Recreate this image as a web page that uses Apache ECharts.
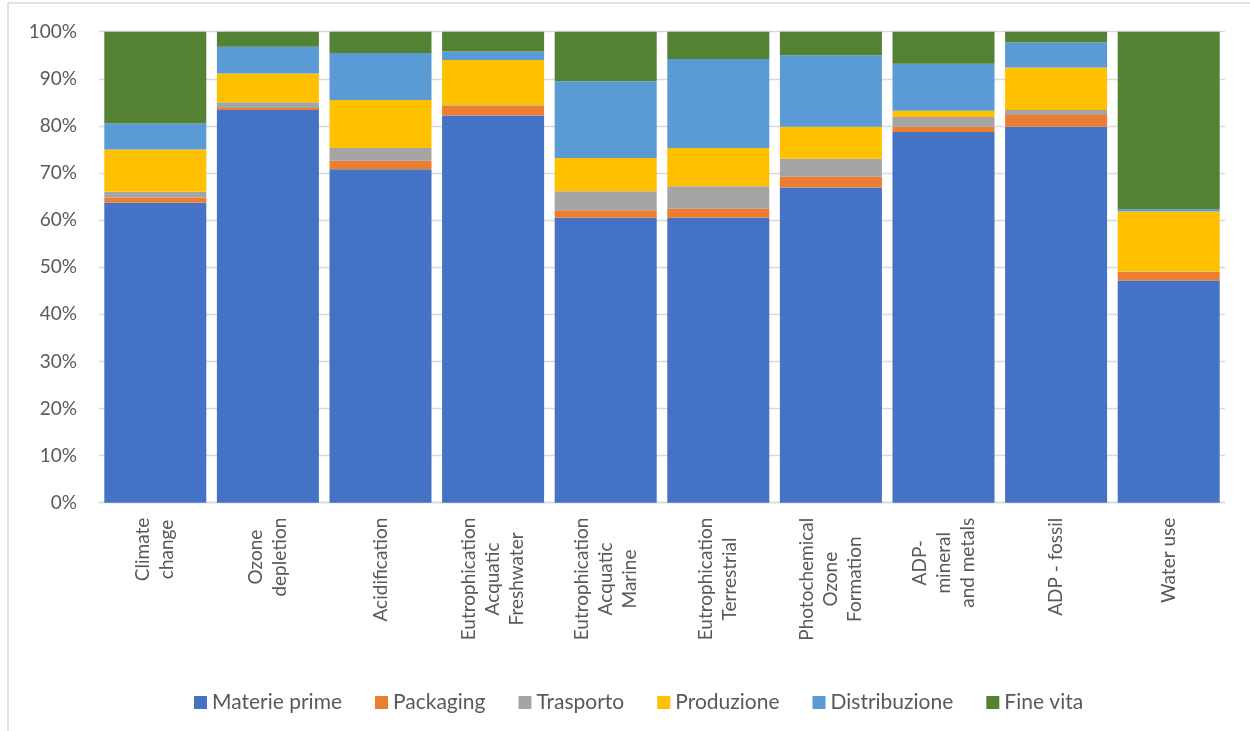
<!DOCTYPE html>
<html>
<head>
<meta charset="utf-8">
<script src="https://cdn.jsdelivr.net/npm/echarts@6/dist/echarts.min.js"></script>
<style>
html,body{margin:0;padding:0;background:#fff;}
#chart{width:1250px;height:731px;}
</style>
</head>
<body>
<div id="chart"></div>
<script>
var categories = [
  "Climate\nchange",
  "Ozone\ndepletion",
  "Acidification",
  "Eutrophication\nAcquatic\nFreshwater",
  "Eutrophication\nAcquatic\nMarine",
  "Eutrophication\nTerrestrial",
  "Photochemical\nOzone\nFormation",
  "ADP-\nmineral\nand metals",
  "ADP - fossil",
  "Water use"
];
var seriesNames = ["Materie prime", "Packaging", "Trasporto", "Produzione", "Distribuzione", "Fine vita"];
var materiePrime  = [63.7, 83.4, 70.8, 82.2, 60.5, 60.5, 66.9, 78.7, 79.8, 47.2];
var packaging     = [1.1, 0.4, 1.8, 2.0, 1.6, 1.9, 2.3, 1.1, 2.5, 1.8];
var trasporto     = [1.2, 1.2, 2.7, 0.2, 4.0, 4.8, 3.8, 2.1, 1.1, 0.1];
var produzione    = [9.0, 6.1, 10.2, 9.6, 7.1, 8.1, 6.8, 1.3, 9.0, 12.7];
var distribuzione = [5.5, 5.7, 10.0, 1.8, 16.3, 18.9, 15.2, 10.0, 5.3, 0.5];
var fineVita      = [19.5, 3.2, 4.5, 4.2, 10.5, 5.8, 5.0, 6.8, 2.3, 37.7];
var yTicks = [0, 10, 20, 30, 40, 50, 60, 70, 80, 90, 100];

var colors = ["#4472C4", "#ED7D31", "#A5A5A5", "#FFC000", "#5B9BD5", "#548235"];
var allData = [materiePrime, packaging, trasporto, produzione, distribuzione, fineVita];

var FONT = "Lato";
var chart = echarts.init(document.getElementById('chart'), null, {renderer: 'canvas'});
var series = seriesNames.map(function (name, i) {
  return {
    name: name,
    type: 'bar',
    stack: 'total',
    barCategoryGap: '9.4%',
    data: allData[i],
    itemStyle: {color: colors[i]},
    emphasis: {disabled: true},
    animation: false
  };
});

chart.setOption({
  animation: false,
  color: colors,
  graphic: [{
    type: 'rect',
    shape: {x: 8, y: 3, width: 1400, height: 900},
    style: {fill: 'none', stroke: '#d9d9d9', lineWidth: 1.5},
    silent: true
  }],
  grid: {left: 99, right: 25, top: 31.7, bottom: 228.3, containLabel: false},
  legend: {
    data: seriesNames,
    left: 189,
    top: 687,
    icon: 'rect',
    itemWidth: 13,
    itemHeight: 13,
    itemGap: 33,
    textStyle: {fontFamily: FONT, fontSize: 21, color: '#595959'}
  },
  xAxis: {
    type: 'category',
    data: categories,
    axisLine: {show: true, lineStyle: {color: '#d9d9d9', width: 1.3}},
    axisTick: {show: false},
    axisLabel: {
      rotate: 90,
      interval: 0,
      margin: 15,
      color: '#595959',
      fontFamily: FONT,
      fontSize: 19,
      formatter: function (v) {
        return v.split('\n').map(function (l) { return '{c|' + l + '}'; }).join('\n');
      },
      rich: {c: {align: 'center', fontFamily: FONT, fontSize: 19, color: '#595959', lineHeight: 24}}
    }
  },
  yAxis: {
    type: 'value',
    min: yTicks[0],
    max: yTicks[yTicks.length - 1],
    interval: 10,
    axisLine: {show: false},
    axisTick: {show: false},
    splitLine: {show: true, lineStyle: {color: '#d9d9d9', width: 1.3}},
    axisLabel: {
      margin: 22,
      color: '#595959',
      fontFamily: FONT,
      fontSize: 19,
      formatter: '{value}%'
    }
  },
  series: series
});
</script>
</body>
</html>
